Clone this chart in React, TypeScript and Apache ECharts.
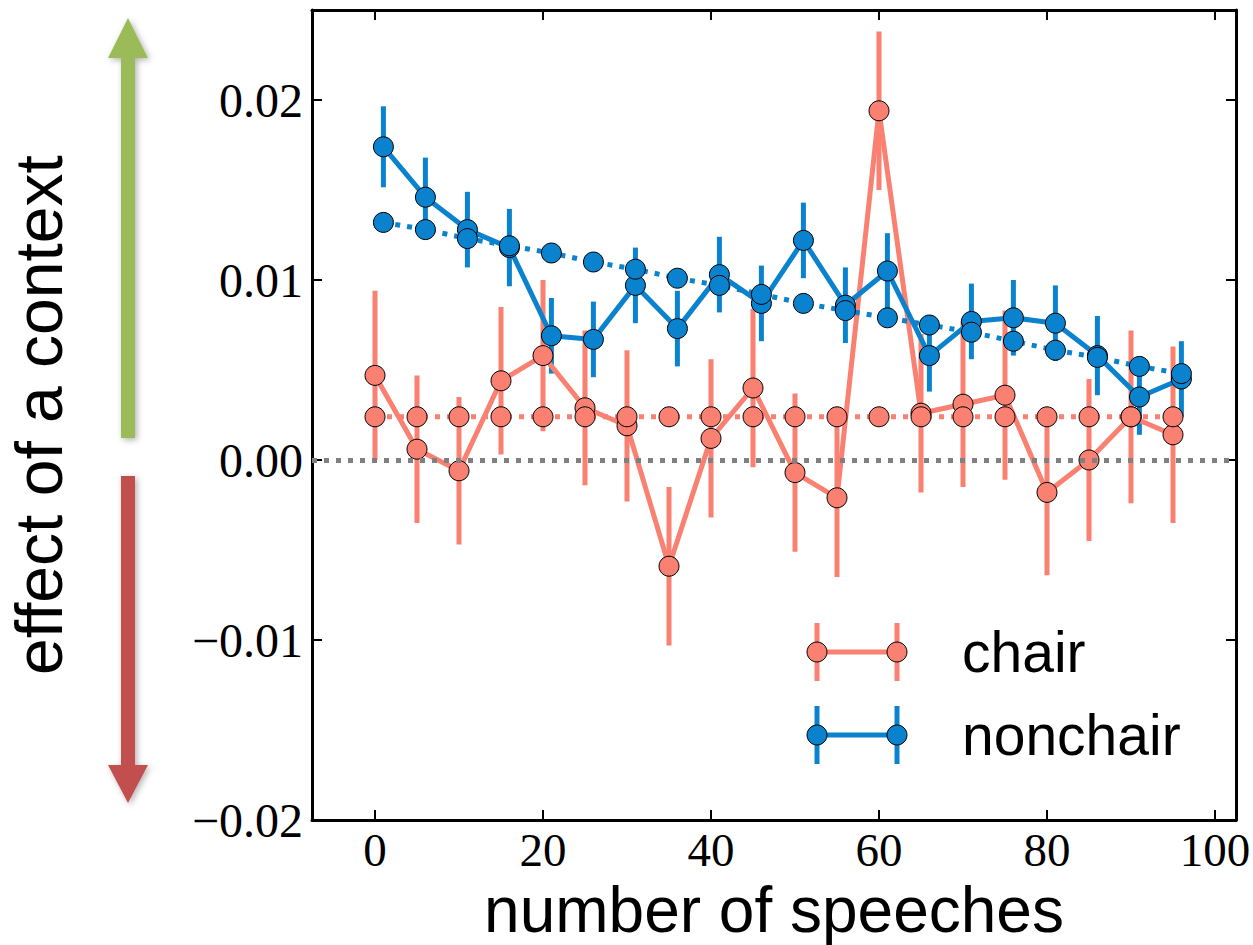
import React, { useEffect, useRef } from "react";
import * as echarts from "echarts";

const chairX = [0, 5, 10, 15, 20, 25, 30, 35, 40, 45, 50, 55, 60, 65, 70, 75, 80, 85, 90, 95];
const chairVals = [0.0047, 0.0006, -0.0006, 0.0044, 0.0058, 0.0029, 0.0019, -0.0059, 0.0012, 0.004, -0.0007, -0.0021, 0.0194, 0.0026, 0.0031, 0.0036, -0.0018, 0.0, 0.0024, 0.0014];
const chairErr = [0.0047, 0.0041, 0.0041, 0.0041, 0.0042, 0.0043, 0.0042, 0.0044, 0.0044, 0.0044, 0.0044, 0.0044, 0.0044, 0.0044, 0.0046, 0.0047, 0.0046, 0.0045, 0.0048, 0.0049];
const chairTrend = [0.0024, 0.0024, 0.0024, 0.0024, 0.0024, 0.0024, 0.0024, 0.0024, 0.0024, 0.0024, 0.0024, 0.0024, 0.0024, 0.0024, 0.0024, 0.0024, 0.0024, 0.0024, 0.0024, 0.0024];

const nonchairX = [1, 6, 11, 16, 21, 26, 31, 36, 41, 46, 51, 56, 61, 66, 71, 76, 81, 86, 91, 96];
const nonchairVals = [0.0174, 0.0146, 0.0128, 0.0118, 0.0069, 0.0067, 0.0097, 0.0073, 0.0103, 0.0087, 0.0122, 0.0086, 0.0105, 0.0058, 0.0077, 0.0079, 0.0076, 0.0058, 0.0035, 0.0045];
const nonchairErr = [0.00225, 0.0022, 0.0021, 0.00215, 0.0021, 0.0021, 0.0021, 0.0021, 0.0021, 0.0021, 0.0021, 0.0021, 0.0021, 0.002, 0.0021, 0.0021, 0.0021, 0.0022, 0.0021, 0.0021];
const nonchairTrend = [0.0132, 0.0128, 0.0123, 0.0119, 0.0115, 0.011, 0.0106, 0.0101, 0.0097, 0.0092, 0.0087, 0.0083, 0.0079, 0.0075, 0.0071, 0.0066, 0.0061, 0.0057, 0.0052, 0.0048];

const xTicks = [0, 20, 40, 60, 80, 100];
const yTicks = [-0.02, -0.01, 0, 0.01, 0.02];
const seriesNames = ["chair", "nonchair"];

const SALMON = "#FA8072";
const BLUE = "#0A82CE";

const zip = (xs: number[], ys: number[]) => xs.map((x, i) => [x, ys[i]]);
const errData = (xs: number[], ys: number[], es: number[]) =>
  xs.map((x, i) => [x, ys[i] - es[i], ys[i] + es[i]]);

const errSeries = (name: string, data: number[][], color: string) => ({
  name,
  type: "custom",
  data,
  encode: { x: 0, y: [1, 2] },
  silent: true,
  renderItem: (_p: any, api: any) => {
    const x = api.value(0);
    const a = api.coord([x, api.value(1)]);
    const b = api.coord([x, api.value(2)]);
    return {
      type: "line",
      shape: { x1: a[0], y1: a[1], x2: b[0], y2: b[1] },
      style: { stroke: color, lineWidth: 5 },
    };
  },
});

const lineSeries = (name: string, data: number[][], color: string, dotted: boolean) => ({
  name,
  type: "line",
  data,
  symbol: "circle",
  symbolSize: 20,
  showSymbol: true,
  itemStyle: { color, borderColor: "#000", borderWidth: 1 },
  lineStyle: { color, width: 5, type: dotted ? [5, 7] : "solid" },
  silent: true,
});

const legendEntry = (y: number, color: string, label: string) => ({
  type: "group",
  children: [
    { type: "line", shape: { x1: 817, y1: y, x2: 897, y2: y }, style: { stroke: color, lineWidth: 5 } },
    { type: "line", shape: { x1: 817, y1: y - 29, x2: 817, y2: y + 29 }, style: { stroke: color, lineWidth: 5 } },
    { type: "line", shape: { x1: 897, y1: y - 29, x2: 897, y2: y + 29 }, style: { stroke: color, lineWidth: 5 } },
    { type: "circle", shape: { cx: 817, cy: y, r: 10 }, style: { fill: color, stroke: "#000", lineWidth: 1 } },
    { type: "circle", shape: { cx: 897, cy: y, r: 10 }, style: { fill: color, stroke: "#000", lineWidth: 1 } },
    {
      type: "text",
      x: 962,
      y,
      style: {
        text: label,
        fontFamily: "Liberation Sans",
        fontSize: 57,
        fill: "#000",
        align: "left",
        verticalAlign: "middle",
      },
    },
  ],
});

const fmtY = (v: number) => {
  const s = Math.abs(v).toFixed(2);
  return v < -1e-9 ? "\u2212" + s : s;
};

export default function App() {
  const ref = useRef<HTMLDivElement>(null);
  useEffect(() => {
    if (!ref.current) return;
    const chart = echarts.init(ref.current, undefined, { renderer: "svg" });
    const axisLine = { show: true, onZero: false, lineStyle: { color: "#000", width: 3 } };
    const tick = (vals: number[]) => ({
      show: true,
      inside: true,
      length: 10,
      customValues: vals,
      lineStyle: { color: "#000", width: 2 },
    });
    chart.setOption({
      animation: false,
      backgroundColor: "#fff",
      grid: { left: 312, top: 10, width: 924, height: 810, containLabel: false, outerBoundsMode: "none" },
      xAxis: [
        {
          type: "value",
          position: "bottom",
          min: -7.5,
          max: 102.5,
          axisLine,
          axisTick: tick(xTicks),
          splitLine: { show: false },
          axisLabel: {
            customValues: xTicks,
            fontFamily: "Liberation Serif",
            fontSize: 47,
            color: "#000",
            margin: 6,
          },
          name: "number of speeches",
          nameLocation: "middle",
          nameGap: 51,
          nameTextStyle: { fontFamily: "Liberation Sans", fontSize: 64, color: "#000" },
        },
        {
          type: "value",
          position: "top",
          min: -7.5,
          max: 102.5,
          axisLine,
          axisTick: tick(xTicks),
          splitLine: { show: false },
          axisLabel: { show: false },
        },
      ],
      yAxis: [
        {
          type: "value",
          position: "left",
          min: -0.02,
          max: 0.025,
          axisLine,
          axisTick: tick(yTicks),
          splitLine: { show: false },
          axisLabel: {
            customValues: yTicks,
            formatter: fmtY,
            fontFamily: "Liberation Serif",
            fontSize: 48,
            color: "#000",
            margin: 9,
          },
          name: "effect of a context",
          nameLocation: "middle",
          nameRotate: 90,
          nameGap: 240,
          nameTextStyle: { fontFamily: "Liberation Sans", fontSize: 66, color: "#000" },
        },
        {
          type: "value",
          position: "right",
          min: -0.02,
          max: 0.025,
          axisLine,
          axisTick: tick(yTicks),
          splitLine: { show: false },
          axisLabel: { show: false },
        },
      ],
      series: [
        {
          name: "zero",
          type: "line",
          data: [],
          silent: true,
          markLine: {
            silent: true,
            symbol: "none",
            label: { show: false },
            lineStyle: { color: "#808080", width: 5, type: [5, 7] },
            data: [{ yAxis: 0 }],
          },
        },
        errSeries(seriesNames[0], errData(chairX, chairVals, chairErr), SALMON),
        lineSeries(seriesNames[0], zip(chairX, chairVals), SALMON, false),
        lineSeries(seriesNames[0] + " trend", zip(chairX, chairTrend), SALMON, true),
        errSeries(seriesNames[1], errData(nonchairX, nonchairVals, nonchairErr), BLUE),
        lineSeries(seriesNames[1], zip(nonchairX, nonchairVals), BLUE, false),
        lineSeries(seriesNames[1] + " trend", zip(nonchairX, nonchairTrend), BLUE, true),
      ],
      graphic: [
        {
          type: "polygon",
          shape: {
            points: [[121, 438], [121, 58], [108, 58], [128, 18], [148, 58], [135, 58], [135, 438]],
          },
          style: {
            fill: "#9BBB59",
            shadowBlur: 6,
            shadowColor: "rgba(0,0,0,0.3)",
            shadowOffsetX: 2,
            shadowOffsetY: 2,
          },
        },
        {
          type: "polygon",
          shape: {
            points: [[121, 476], [135, 476], [135, 765], [148, 765], [128, 803], [108, 765], [121, 765]],
          },
          style: {
            fill: "#C0504D",
            shadowBlur: 6,
            shadowColor: "rgba(0,0,0,0.3)",
            shadowOffsetX: 2,
            shadowOffsetY: 2,
          },
        },
        legendEntry(652, SALMON, seriesNames[0]),
        legendEntry(735, BLUE, seriesNames[1]),
      ],
    });
    return () => chart.dispose();
  }, []);
  return (
    <div
      ref={ref}
      style={{ position: "fixed", left: 0, top: 0, width: 1253, height: 945, background: "#fff" }}
    />
  );
}
